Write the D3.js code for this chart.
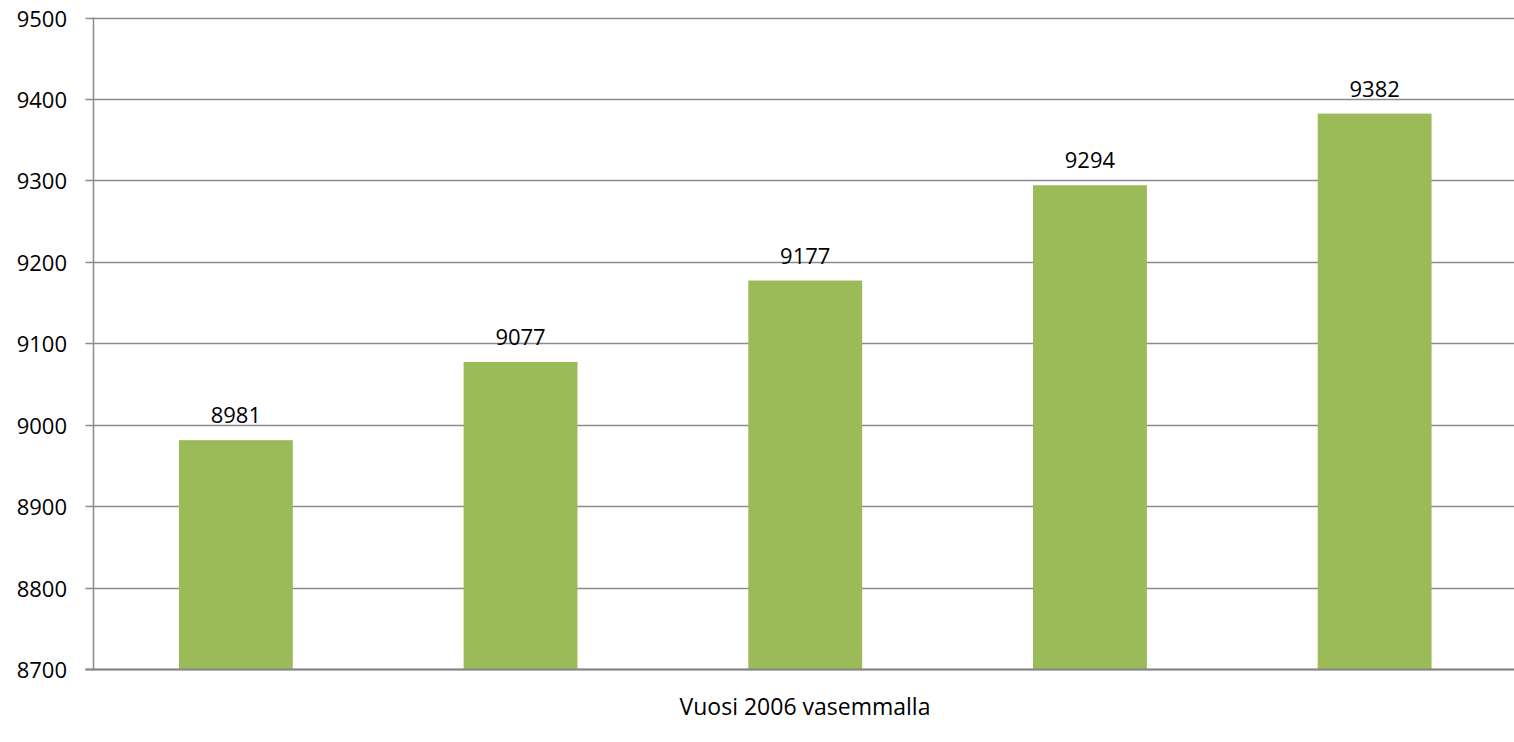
<!DOCTYPE html>
<html>
<head>
<meta charset="utf-8">
<script src="https://cdn.jsdelivr.net/npm/d3@7"></script>
<style>
  body { margin: 0; background: #fff; }
  text { font-family: "Open Sans", "Noto Sans", sans-serif; fill: #000; }
</style>
</head>
<body>
<svg id="chart" width="1514" height="742"></svg>
<script>
// data
var categories = ["2006", "2007", "2008", "2009", "2010"];
var values = [8981, 9077, 9177, 9294, 9382];
var yTicks = [8700, 8800, 8900, 9000, 9100, 9200, 9300, 9400, 9500];
var axisTitle = "Vuosi 2006 vasemmalla";

var svg = d3.select("#chart");
var plotLeft = 93.5, plotTop = 17.5, plotRight = 1517, plotBottom = 669;

var x = d3.scaleBand()
  .domain(categories)
  .range([plotLeft, plotRight])
  .paddingInner(0.6)
  .paddingOuter(0.3);

var y = d3.scaleLinear()
  .domain([8700, 9500])
  .range([plotBottom, plotTop]);

// gridlines
svg.append("g")
  .selectAll("line")
  .data(yTicks)
  .enter().append("line")
  .attr("x1", plotLeft - 8)
  .attr("x2", 1514)
  .attr("y1", d => Math.round(y(d)) + 0.5)
  .attr("y2", d => Math.round(y(d)) + 0.5)
  .style("stroke", "#8c8c8c")
  .style("stroke-width", 1.5);

// bars
svg.append("g")
  .selectAll("rect")
  .data(values)
  .enter().append("rect")
  .attr("x", (d, i) => x(categories[i]))
  .attr("width", x.bandwidth())
  .attr("y", d => y(d))
  .attr("height", d => plotBottom - y(d))
  .attr("fill", "#9bbb59");

// y axis line
svg.append("line")
  .attr("x1", plotLeft).attr("x2", plotLeft)
  .attr("y1", plotTop).attr("y2", plotBottom)
  .style("stroke", "#8c8c8c")
  .style("stroke-width", 1.5);

// bottom axis line
svg.append("line")
  .attr("x1", plotLeft - 8).attr("x2", 1514)
  .attr("y1", plotBottom + 0.5).attr("y2", plotBottom + 0.5)
  .style("stroke", "#868686")
  .style("stroke-width", 2);

// y tick labels
svg.append("g")
  .selectAll("text")
  .data(yTicks)
  .enter().append("text")
  .attr("x", 67)
  .attr("y", d => y(d))
  .attr("text-anchor", "end")
  .attr("dominant-baseline", "central")
  .style("font-size", "22px")
  .text(d => d);

// value labels
svg.append("g")
  .selectAll("text")
  .data(values)
  .enter().append("text")
  .attr("x", (d, i) => x(categories[i]) + x.bandwidth() / 2)
  .attr("y", d => y(d) - 26)
  .attr("text-anchor", "middle")
  .attr("dominant-baseline", "central")
  .style("font-size", "22px")
  .text(d => d);

// x axis title
svg.append("text")
  .attr("x", 805)
  .attr("y", 706)
  .attr("text-anchor", "middle")
  .attr("dominant-baseline", "central")
  .style("font-size", "23px")
  .text(axisTitle);
</script>
</body>
</html>
